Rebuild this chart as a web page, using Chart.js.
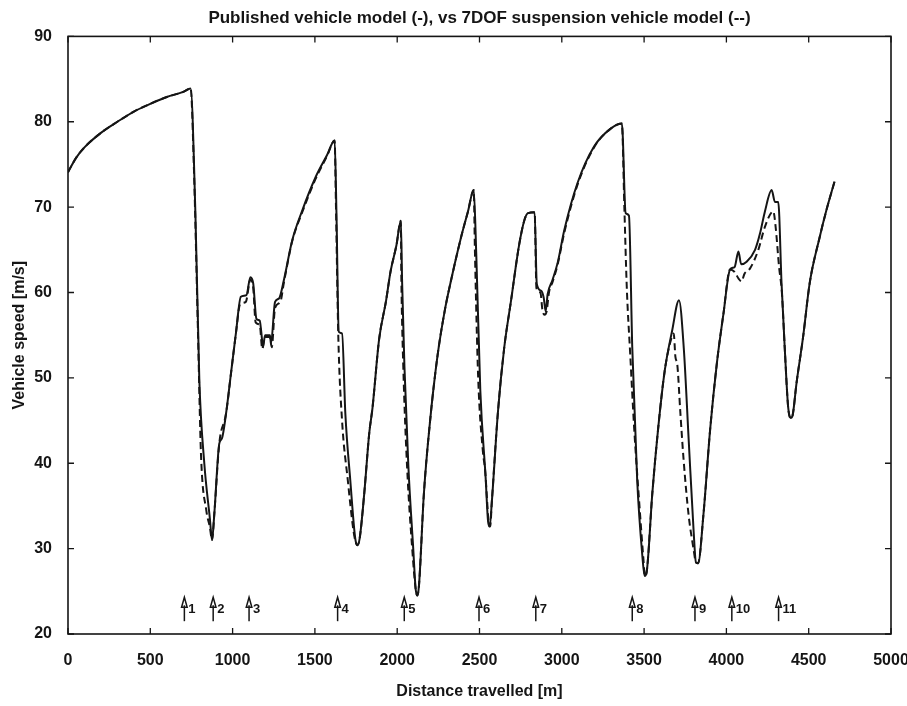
<!DOCTYPE html>
<html lang="en">
<head>
  <meta charset="UTF-8">
  <title>Vehicle speed vs distance</title>
  <script src="https://cdn.jsdelivr.net/npm/chart.js"></script>
  <style>
    body { margin: 0; background: #fff; }
    canvas { display: block; }
  </style>
</head>
<body>
  <canvas id="speedChart" width="907" height="706"></canvas>
  <script>
    // Published vehicle model (solid line)
    const publishedDist = [
      0, 50, 100, 200, 300, 400, 500, 600, 700, 745,
      774, 798, 828, 862, 875, 889, 919, 935, 960, 990, 1020, 1050, 1084, 1108, 1125, 1145, 1165, 1173, 1185, 1197, 1227, 1233, 1258, 1282, 1312, 1362, 1423, 1504, 1574, 1620,
      1631, 1645, 1665, 1685, 1715, 1745, 1758, 1772, 1800, 1830, 1850, 1890, 1932, 1960, 1995, 2022,
      2030, 2044, 2068, 2098, 2112, 2122, 2132, 2162, 2200, 2245, 2290, 2328, 2391, 2430, 2465,
      2480, 2505, 2537, 2552, 2562, 2575, 2612, 2650, 2692, 2740, 2773, 2795, 2835, 2848, 2875, 2890, 2902, 2914, 2944, 2975, 3015, 3095, 3196, 3297, 3365,
      3388, 3408, 3428, 3458, 3490, 3503, 3515, 3550, 3585, 3625, 3670, 3712,
      3741, 3771, 3801, 3815, 3828, 3861, 3901, 3942, 3982, 4022, 4050, 4073, 4090, 4123, 4174, 4204, 4234, 4275, 4295, 4315,
      4335, 4355, 4375, 4390, 4402, 4426, 4466, 4506, 4567, 4607, 4657
    ];
    const publishedSpeed = [
      74.1, 75.8, 77.0, 78.7, 80.0, 81.2, 82.1, 82.9, 83.5, 83.9,
      69.3, 49.7, 40.0, 33.5, 31.0, 34.1, 42.3, 42.9, 45.8, 50.5, 55.2, 59.5, 59.7, 61.8, 61.1, 56.9, 56.7, 55.6, 53.6, 55.0, 55.0, 54.0, 58.9, 59.3, 61.5, 66.1, 69.6, 73.5, 76.1, 77.8,
      69.3, 55.4, 55.2, 45.8, 38.0, 31.2, 30.4, 31.2, 36.5, 43.5, 46.5, 54.5, 59.0, 62.5, 65.5, 68.4,
      61.1, 51.3, 39.6, 29.8, 25.3, 24.5, 25.6, 36.4, 45.0, 52.6, 58.0, 61.5, 66.7, 69.5, 72.0,
      64.7, 48.5, 38.4, 33.2, 32.6, 35.5, 46.0, 53.5, 59.1, 65.5, 68.5, 69.3, 69.4, 61.0, 60.2, 59.4, 57.8, 59.8, 61.5, 63.5, 67.3, 72.8, 77.1, 79.2, 79.8,
      69.3, 69.0, 53.6, 38.0, 29.0, 26.8, 27.2, 36.5, 44.0, 50.8, 55.5, 59.1,
      53.5, 42.7, 32.0, 28.4, 28.3, 34.1, 43.9, 51.7, 57.5, 62.7, 63.0, 64.8, 63.3, 63.6, 65.0, 66.9, 69.5, 72.0, 70.6, 70.6,
      61.1, 53.3, 46.6, 45.3, 45.6, 49.4, 54.8, 61.1, 66.5, 69.6, 73.0
    ];

    // 7DOF suspension vehicle model (dashed line)
    const suspensionDist = [
      0, 50, 100, 200, 300, 400, 500, 600, 700, 745,
      765, 790, 808, 840, 862, 875, 889, 919, 960, 990, 1020, 1045, 1080, 1108, 1125, 1140, 1165, 1180, 1195, 1225, 1238, 1258, 1290, 1312, 1362, 1423, 1504, 1574, 1620,
      1628, 1642, 1665, 1700, 1735, 1750, 1758, 1772, 1800, 1830, 1850, 1890, 1932, 1960, 1995, 2022,
      2025, 2037, 2060, 2092, 2112, 2122, 2132, 2162, 2200, 2245, 2290, 2328, 2391, 2430, 2465,
      2472, 2492, 2520, 2535, 2545, 2556, 2565, 2575, 2612, 2650, 2692, 2740, 2773, 2795, 2835, 2846, 2870, 2882, 2895, 2908, 2922, 2945, 2975, 3015, 3095, 3196, 3297, 3365,
      3380, 3395, 3415, 3440, 3470, 3495, 3505, 3515, 3550, 3585, 3625, 3665, 3680, 3690, 3702, 3720, 3740, 3770, 3800, 3815, 3828, 3861, 3901, 3942, 3982,
      4022, 4050, 4075, 4092, 4110, 4143, 4194, 4234, 4285, 4298, 4320, 4337, 4355, 4375, 4390, 4402, 4426, 4466, 4506, 4567, 4607, 4657
    ];
    const suspensionSpeed = [
      74.1, 75.8, 77.0, 78.7, 80.0, 81.2, 82.1, 82.9, 83.5, 83.9,
      74.5, 55.0, 41.0, 34.5, 32.5, 31.0, 34.1, 42.3, 45.8, 50.5, 55.2, 58.6, 58.9, 61.5, 60.6, 56.5, 56.2, 53.4, 54.8, 54.8, 53.6, 58.2, 58.9, 61.2, 66.0, 69.4, 73.3, 76.0, 77.8,
      70.0, 55.0, 45.0, 38.0, 32.0, 30.6, 30.4, 31.2, 36.5, 43.5, 46.5, 54.5, 59.0, 62.5, 65.5, 68.4,
      62.0, 51.3, 39.6, 29.8, 25.3, 24.5, 25.6, 36.4, 45.0, 52.6, 58.0, 61.5, 66.7, 69.5, 72.0,
      65.0, 50.0, 41.5, 39.0, 36.0, 33.0, 32.6, 35.5, 46.0, 53.5, 59.1, 65.5, 68.5, 69.3, 69.4, 60.5, 60.0, 58.0, 57.4, 57.8, 60.0, 61.3, 63.3, 67.0, 72.6, 77.0, 79.2, 79.8,
      70.0, 60.5, 53.0, 44.0, 35.5, 29.0, 26.8, 27.2, 36.5, 44.0, 50.8, 54.6, 55.2, 52.5, 51.5, 46.0, 40.4, 34.0, 30.0, 28.4, 28.3, 34.1, 43.9, 51.7, 57.5,
      62.7, 62.4, 61.6, 61.3, 62.2, 62.8, 65.0, 67.7, 69.5, 67.9, 63.0, 60.0, 53.3, 46.6, 45.3, 45.6, 49.4, 54.8, 61.1, 66.5, 69.6, 73.0
    ];

    // numbered event markers along the bottom of the plot
    const markerDist = [707, 882, 1100, 1638, 2043, 2497, 2842, 3428, 3809, 4033, 4317];
    const markerLabels = ['1', '2', '3', '4', '5', '6', '7', '8', '9', '10', '11'];
    const markerTop = 24.3, markerBottom = 21.5, markerText = 22.9;

    const xTicks = [0, 500, 1000, 1500, 2000, 2500, 3000, 3500, 4000, 4500, 5000];
    const yTicks = [20, 30, 40, 50, 60, 70, 80, 90];

    const ink = '#151515';
    const toPoints = (xs, ys) => xs.map((x, i) => ({ x: x, y: ys[i] }));

    Chart.defaults.font.family = '"Liberation Sans", Arial, sans-serif';
    Chart.defaults.color = ink;

    // box around the plot with inward tick marks on all four sides
    const frameTicks = {
      id: 'frameTicks',
      afterDraw(chart) {
        const { ctx, chartArea: { left, right, top, bottom }, scales: { x, y } } = chart;
        const len = 6;
        ctx.save();
        ctx.strokeStyle = ink;
        ctx.lineWidth = 1.6;
        ctx.strokeRect(left, top, right - left, bottom - top);
        ctx.lineWidth = 1.3;
        ctx.beginPath();
        xTicks.forEach(v => {
          const px = x.getPixelForValue(v);
          ctx.moveTo(px, bottom); ctx.lineTo(px, bottom - len);
          ctx.moveTo(px, top); ctx.lineTo(px, top + len);
        });
        yTicks.forEach(v => {
          const py = y.getPixelForValue(v);
          ctx.moveTo(left, py); ctx.lineTo(left + len, py);
          ctx.moveTo(right, py); ctx.lineTo(right - len, py);
        });
        ctx.stroke();
        ctx.restore();
      }
    };

    // small up-arrows with their numbers
    const eventMarkers = {
      id: 'eventMarkers',
      afterDatasetsDraw(chart) {
        const { ctx, scales: { x, y } } = chart;
        const yTop = y.getPixelForValue(markerTop);
        const yBot = y.getPixelForValue(markerBottom);
        const yTxt = y.getPixelForValue(markerText);
        ctx.save();
        ctx.strokeStyle = ink;
        ctx.fillStyle = ink;
        ctx.lineWidth = 1.5;
        ctx.font = 'bold 13px "Liberation Sans", Arial, sans-serif';
        ctx.textBaseline = 'middle';
        markerDist.forEach((d, i) => {
          const px = x.getPixelForValue(d);
          ctx.beginPath();
          ctx.moveTo(px, yBot);
          ctx.lineTo(px, yTop + 8);
          ctx.stroke();
          ctx.beginPath();
          ctx.moveTo(px - 2.8, yTop + 10);
          ctx.lineTo(px, yTop);
          ctx.lineTo(px + 2.8, yTop + 10);
          ctx.closePath();
          ctx.stroke();
          ctx.fillText(markerLabels[i], px + 4, yTxt);
        });
        ctx.restore();
      }
    };

    new Chart(document.getElementById('speedChart'), {
      type: 'line',
      data: {
        datasets: [
          {
            label: 'Published vehicle model',
            data: toPoints(publishedDist, publishedSpeed),
            borderColor: ink,
            borderWidth: 2,
            pointRadius: 0,
            cubicInterpolationMode: 'monotone'
          },
          {
            label: '7DOF suspension vehicle model',
            data: toPoints(suspensionDist, suspensionSpeed),
            borderColor: ink,
            borderWidth: 2,
            borderDash: [7, 4],
            pointRadius: 0,
            cubicInterpolationMode: 'monotone'
          }
        ]
      },
      options: {
        responsive: false,
        animation: false,
        layout: { padding: { right: 16 } },
        plugins: {
          legend: { display: false },
          tooltip: { enabled: false },
          title: {
            display: true,
            fullSize: false,
            text: 'Published vehicle model (-), vs 7DOF suspension vehicle model (--)',
            color: ink,
            font: { size: 17, weight: 'bold' },
            padding: { top: 8, bottom: 8 }
          }
        },
        scales: {
          x: {
            type: 'linear',
            min: 0,
            max: 5000,
            afterBuildTicks: s => { s.ticks = xTicks.map(v => ({ value: v })); },
            afterFit: s => { s.height = 72; s.paddingRight = 0; },
            grid: { display: false },
            border: { display: false },
            ticks: {
              font: { size: 16, weight: 'bold' },
              padding: 9,
              maxRotation: 0,
              callback: v => String(v)
            },
            title: {
              display: true,
              text: 'Distance travelled [m]',
              font: { size: 16, weight: 'bold' },
              padding: { top: 0, bottom: 5 }
            }
          },
          y: {
            min: 20,
            max: 90,
            afterBuildTicks: s => { s.ticks = yTicks.map(v => ({ value: v })); },
            afterFit: s => { s.width = 68; },
            grid: { display: false },
            border: { display: false },
            ticks: { font: { size: 16, weight: 'bold' }, padding: 8 },
            title: {
              display: true,
              text: 'Vehicle speed [m/s]',
              font: { size: 16, weight: 'bold' },
              padding: { top: 10, bottom: 0 }
            }
          }
        }
      },
      plugins: [frameTicks, eventMarkers]
    });
  </script>
</body>
</html>
